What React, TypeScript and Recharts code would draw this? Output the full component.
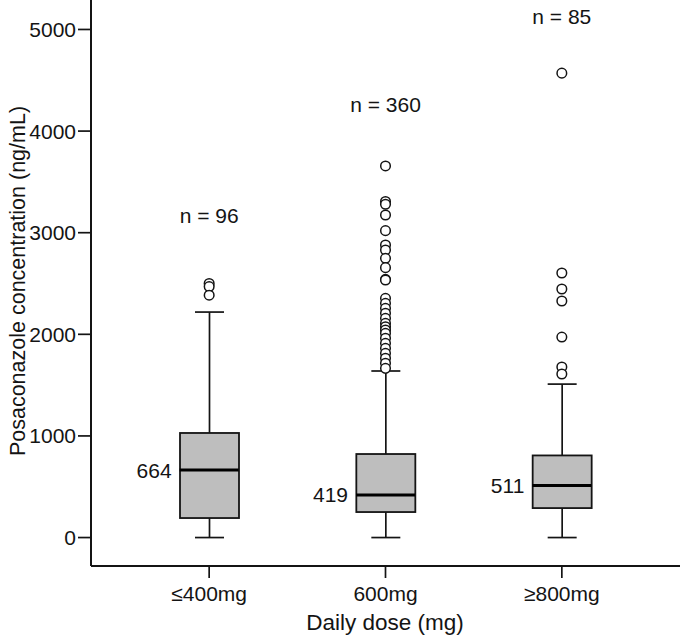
import {
  ComposedChart,
  Bar,
  Line,
  Scatter,
  XAxis,
  YAxis,
  Label,
  LabelList,
  ReferenceDot,
} from 'recharts'

const doses = ['≤400mg', '600mg', '≥800mg']
const sampleSizes = [96, 360, 85]
const whiskerLow = [0, 0, 0]
const q1 = [192, 251, 290]
const medians = [664, 419, 511]
const q3 = [1029, 822, 808]
const whiskerHigh = [2219, 1639, 1510]

const outliers400 = [2500, 2470, 2385]
const outliers600 = [
  3657, 3307, 3280, 3174, 3020, 2879, 2830, 2748, 2656, 2541, 2534, 2354, 2305, 2256, 2207,
  2157, 2108, 2075, 2042, 2010, 1961, 1911, 1862, 1813, 1764, 1715, 1665,
]
const outliers800 = [4570, 2603, 2446, 2328, 1973, 1678, 1609]

// where the "n = ..." text sits on the value axis
const nLabelAt = [3164, 4257, 5128]

const yTicks = [0, 1000, 2000, 3000, 4000, 5000]

const FONT = '"Liberation Sans", Arial, sans-serif'
const INK = '#141414'
const BOX_W = 59

const boxData = doses.map((dose, i) => ({
  dose,
  whisker: [whiskerLow[i], whiskerHigh[i]],
  box: [q1[i], q3[i]],
  median: medians[i],
}))

const outlierData = [
  ...outliers400.map((value) => ({ dose: doses[0], value })),
  ...outliers600.map((value) => ({ dose: doses[1], value })),
  ...outliers800.map((value) => ({ dose: doses[2], value })),
]

function WhiskerShape(props: any) {
  const { x, y, width, height } = props
  const cx = x + width / 2
  return (
    <g stroke={INK} strokeWidth={1.7}>
      <line x1={cx} x2={cx} y1={y} y2={y + height} />
      <line x1={x} x2={x + width} y1={y} y2={y} />
      <line x1={x} x2={x + width} y1={y + height} y2={y + height} />
    </g>
  )
}

function BoxShape(props: any) {
  const { x, y, width, height } = props
  return <rect x={x} y={y} width={width} height={height} fill="#bebebe" stroke={INK} strokeWidth={1.8} />
}

function MedianDot(props: any) {
  const { cx, cy, index } = props
  return (
    <line
      key={index}
      x1={cx - BOX_W / 2}
      x2={cx + BOX_W / 2}
      y1={cy}
      y2={cy}
      stroke="#000"
      strokeWidth={3}
    />
  )
}

function OutlierShape(props: any) {
  const { cx, cy } = props
  return <circle cx={cx} cy={cy} r={4.8} fill="#fff" stroke={INK} strokeWidth={1.5} />
}

function MedianLabel(props: any) {
  const { x, y, value } = props
  return (
    <text
      x={x - BOX_W / 2 - 8}
      y={y}
      textAnchor="end"
      dominantBaseline="central"
      fontFamily={FONT}
      fontSize={21}
      fill={INK}
    >
      {value}
    </text>
  )
}

export default function App() {
  return (
    <div style={{ position: 'absolute', left: 0, top: 0, fontFamily: FONT }}>
      <ComposedChart
        width={680}
        height={639}
        data={boxData}
        margin={{ top: 0, right: 0, bottom: 0, left: 0 }}
      >
        <XAxis
          dataKey="dose"
          type="category"
          allowDuplicatedCategory={false}
          padding={{ left: 30, right: 30 }}
          height={73}
          tickSize={12}
          tickMargin={8}
          axisLine={{ stroke: INK, strokeWidth: 2 }}
          tickLine={{ stroke: INK, strokeWidth: 1.7 }}
          tick={{ fontSize: 21, fill: INK, fontFamily: FONT }}
        >
          <Label
            content={() => (
              <text
                x={385}
                y={622}
                textAnchor="middle"
                dominantBaseline="central"
                fontFamily={FONT}
                fontSize={22.5}
                fill={INK}
              >
                Daily dose (mg)
              </text>
            )}
          />
        </XAxis>
        <XAxis
          xAxisId="w"
          dataKey="dose"
          type="category"
          allowDuplicatedCategory={false}
          padding={{ left: 30, right: 30 }}
          hide
        />
        <YAxis
          type="number"
          domain={[-280, 5290]}
          ticks={yTicks}
          allowDataOverflow
          width={91}
          tickSize={13}
          tickMargin={2}
          axisLine={{ stroke: INK, strokeWidth: 2 }}
          tickLine={{ stroke: INK, strokeWidth: 1.7 }}
          tick={{ fontSize: 21, fill: INK, fontFamily: FONT }}
        >
          <Label
            content={() => (
              <text
                x={18}
                y={281}
                transform="rotate(-90 18 281)"
                textAnchor="middle"
                dominantBaseline="central"
                fontFamily={FONT}
                fontSize={21.5}
                fill={INK}
              >
                Posaconazole concentration (ng/mL)
              </text>
            )}
          />
        </YAxis>
        <Bar
          xAxisId="w"
          dataKey="whisker"
          barSize={29}
          shape={WhiskerShape}
          isAnimationActive={false}
        />
        <Bar dataKey="box" barSize={BOX_W} shape={BoxShape} isAnimationActive={false} />
        <Line
          dataKey="median"
          stroke="none"
          dot={MedianDot}
          activeDot={false}
          isAnimationActive={false}
        >
          <LabelList dataKey="median" content={MedianLabel} />
        </Line>
        <Scatter
          data={outlierData}
          dataKey="value"
          shape={OutlierShape}
          isAnimationActive={false}
        />
        {doses.map((dose, i) => (
          <ReferenceDot
            key={dose}
            x={dose}
            y={nLabelAt[i]}
            r={0}
            fill="none"
            stroke="none"
            ifOverflow="visible"
            label={{
              value: `n = ${sampleSizes[i]}`,
              position: 'center',
              fontSize: 21,
              fill: INK,
              fontFamily: FONT,
            }}
          />
        ))}
      </ComposedChart>
    </div>
  )
}
